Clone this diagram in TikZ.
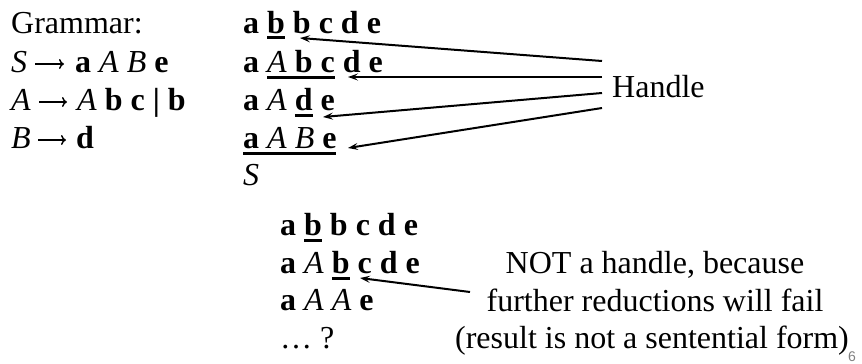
\documentclass[tikz,border=0pt]{standalone}
\usepackage{fontspec}
\setmainfont{Liberation Serif}
\newfontfamily\pgnfont{Liberation Sans}
\usetikzlibrary{arrows.meta,calc}
\newcommand\ulx[1]{\setbox0\hbox{#1}\rlap{\rule[-6.5pt]{\wd0}{3pt}}\box0\relax}
\newcommand\bb[1]{\textbf{#1}}
\newcommand\ii[1]{\textit{#1}}
\tikzset{
  row/.style={anchor=base west, inner sep=0pt, font=\fontsize{32}{38}\selectfont},
  note/.style={anchor=base, inner sep=0pt, font=\fontsize{32}{38}\selectfont},
  harrow/.style={line width=2pt, -{Stealth[length=10pt,width=7pt,inset=4pt]}},
  prodarrow/.style={line width=1.5pt, -{To[length=5pt,width=10pt]}},
}
\begin{document}
\begin{tikzpicture}[x=1pt,y=-1pt]
\useasboundingbox (0,0) rectangle (862,364);
% grammar
\node[row] (g0) at (11,33) {Grammar:};
\node[row] (l1) at (11,72) {\ii{S}};
\node[row] (l2) at (11,110) {\ii{A}};
\node[row] (l3) at (11,148) {\ii{B}};
\node[row] (p1) at (75,72) {\bb{a} \ii{A B} \bb{e}};
\node[row] (p2) at (77,110) {\ii{A} \bb{b c} \bb{|} \bb{b}};
\node[row] (p3) at (76,148) {\bb{d}};
\coordinate (a1s) at (35,64);  \coordinate (a1e) at (64,64);
\coordinate (a2s) at (39,102); \coordinate (a2e) at (67,102);
\coordinate (a3s) at (38,140); \coordinate (a3e) at (66,140);
\draw[prodarrow] (a1s) -- (a1e);
\draw[prodarrow] (a2s) -- (a2e);
\draw[prodarrow] (a3s) -- (a3e);
% derivation
\node[row] (r1) at (243,33) {\bb{a} \ulx{\bb{b}} \bb{b c d e}};
\node[row] (r2) at (243,72) {\bb{a} \ulx{\ii{A} \bb{b c}} \bb{d e}};
\node[row] (r3) at (243,110) {\bb{a} \ii{A} \ulx{\bb{d}} \bb{e}};
\node[row] (r4) at (243,148) {\ulx{\bb{a} \ii{A B} \bb{e}}};
\node[row] (r5) at (243,185) {\ii{S}};
% handle
\node[row] (hd) at (612,97) {Handle};
\coordinate (h1) at (602,61);
\coordinate (h2) at (602,77);
\coordinate (h3) at (602,93);
\coordinate (h4) at (602,108);
\coordinate (t1) at (300,38);
\coordinate (t2) at (348,77);
\coordinate (t3) at (323,117);
\coordinate (t4) at (348,148);
\draw[harrow] (h1) -- (t1);
\draw[harrow] (h2) -- (t2);
\draw[harrow] (h3) -- (t3);
\draw[harrow] (h4) -- (t4);
% wrong path
\node[row] (w1) at (280,235) {\bb{a} \ulx{\bb{b}} \bb{b c d e}};
\node[row] (w2) at (280,273) {\bb{a} \ii{A} \ulx{\bb{b}} \bb{c d e}};
\node[row] (w3) at (280,310) {\bb{a} \ii{A A} \bb{e}};
\node[row] (w4) at (280,348) {… ?};
\node[note] (n1) at (655,273) {NOT a handle, because};
\node[note] (n2) at (655,311) {further reductions will fail};
\node[note] (n3) at (652,348) {(result is not a sentential form)};
\coordinate (ws) at (470,292);
\coordinate (wt) at (360,278);
\draw[harrow] (ws) -- (wt);
\node[anchor=base west, inner sep=0pt, font=\pgnfont\fontsize{14}{16}\selectfont, text=gray] (pg) at (848,361) {6};
\end{tikzpicture}
\end{document}
